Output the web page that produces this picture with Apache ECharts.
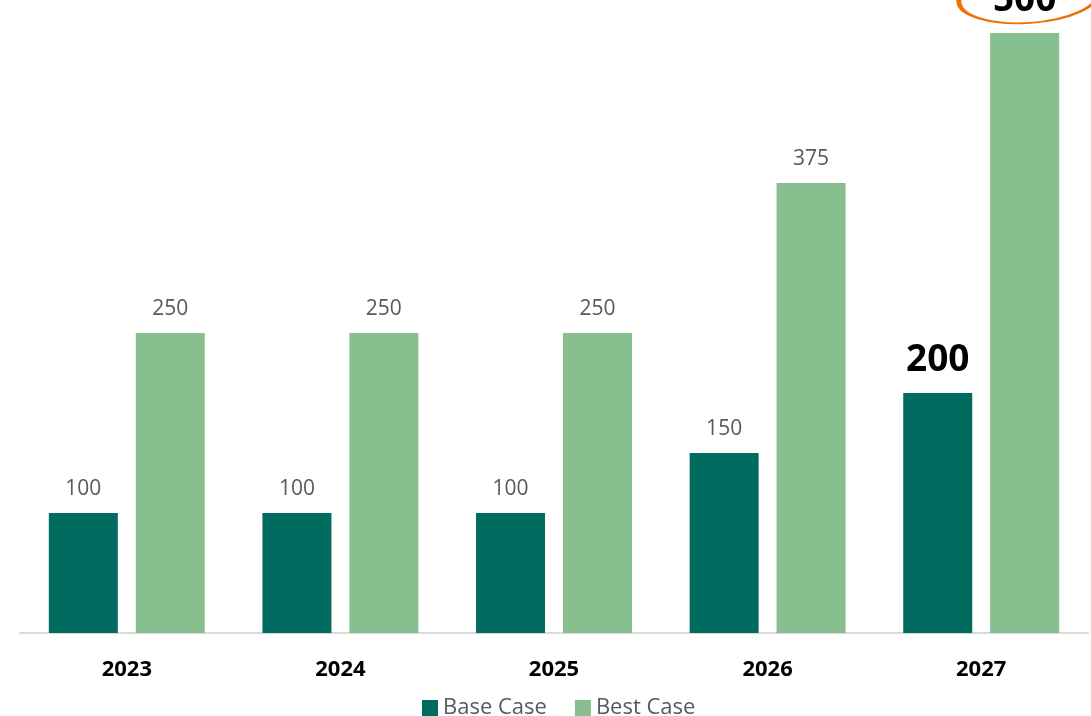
<!DOCTYPE html>
<html><head><meta charset="utf-8">
<script src="https://cdn.jsdelivr.net/npm/echarts@6/dist/echarts.min.js"></script>
<style>html,body{margin:0;padding:0;background:#fff}#c{width:1091px;height:716px}</style>
</head><body><div id="c"></div>
<script>
const categories = ['2023', '2024', '2025', '2026', '2027'];
const baseCase = [100, 100, 100, 150, 200];
const bestCase = [250, 250, 250, 375, 500];
const seriesNames = ['Base Case', 'Best Case'];

const FONT = '"Open Sans", "Noto Sans", sans-serif';
const normalLabel = { show: true, position: 'top', distance: 13, color: '#595959', fontSize: 21, fontFamily: FONT };
const bigLabel = { show: true, position: 'top', distance: 14, color: '#000', fontSize: 37, fontWeight: 'bold', fontFamily: FONT };

function mk(vals) {
  return vals.map((v, i) => i === vals.length - 1 ? { value: v, label: bigLabel } : v);
}

const chart = echarts.init(document.getElementById('c'), null, { renderer: 'canvas' });
chart.setOption({
  animation: false,
  grid: { left: 20, right: 3, top: 33, bottom: 83, containLabel: false },
  xAxis: {
    type: 'category', data: categories,
    axisLine: { lineStyle: { color: '#D9D9D9', width: 2 } },
    axisTick: { show: false },
    axisLabel: { color: '#000', fontSize: 22, fontWeight: 'bold', fontFamily: FONT, margin: 26 }
  },
  yAxis: { type: 'value', min: 0, max: 500, show: false, splitLine: { show: false } },
  legend: {
    bottom: -8, left: 417, itemWidth: 16, itemHeight: 16, itemGap: 28,
    icon: 'rect',
    textStyle: { color: '#595959', fontSize: 22, fontFamily: FONT }
  },
  series: [
    { name: seriesNames[0], type: 'bar', data: mk(baseCase), barWidth: 69, barGap: '26%',
      itemStyle: { color: '#006B5F' }, label: normalLabel },
    { name: seriesNames[1], type: 'bar', data: mk(bestCase), barWidth: 69,
      itemStyle: { color: '#88BF8F' }, label: normalLabel,
      markPoint: {
        silent: true,
        data: [{ coord: [categories[4], bestCase[4]], symbol: 'circle', symbolSize: [140, 52],
                 symbolOffset: [4, -36], symbolRotate: 4,
                 itemStyle: { color: 'rgba(0,0,0,0)', borderColor: '#EE7203', borderWidth: 3 },
                 label: { show: false } }]
      }
    }
  ]
});
</script></body></html>
